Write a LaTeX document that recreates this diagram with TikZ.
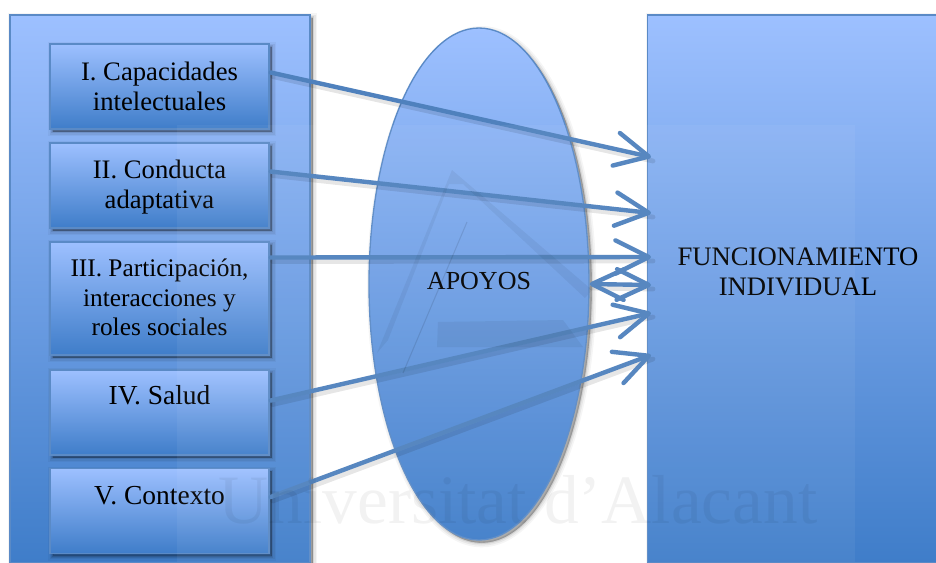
\documentclass[tikz,border=0pt]{standalone}
\usepackage{fontspec}
\setmainfont{Liberation Serif}
\usetikzlibrary{shapes.geometric,arrows.meta,calc}
\definecolor{gtop}{HTML}{9DC0FF}
\definecolor{gbot}{HTML}{3F7DC9}
\definecolor{edge}{HTML}{5A8AC6}
\definecolor{conn}{HTML}{4F81BD}
\newcommand{\dn}[2]{\raisebox{-#1pt}[\height][\depth]{#2}}
\tikzset{
  softshadow/.style={
    preaction={draw=black,fill=black,draw opacity=.04,fill opacity=.04,line width=7pt,transform canvas={shift={(#1,-#1)}}},
    preaction={draw=black,fill=black,draw opacity=.06,fill opacity=.06,line width=4.5pt,transform canvas={shift={(#1,-#1)}}},
    preaction={draw=black,fill=black,draw opacity=.09,fill opacity=.09,line width=2pt,transform canvas={shift={(#1,-#1)}}},
    preaction={draw=black,fill=black,draw opacity=.11,fill opacity=.11,line width=.5pt,transform canvas={shift={(#1,-#1)}}}
  },
  gradshape/.style={top color=gtop,bottom color=gbot,draw=edge,line width=1pt},
  panel/.style={rectangle,gradshape,softshadow=2pt,minimum width=225pt,inner sep=0pt},
  boxnode/.style={rectangle,gradshape,softshadow=2pt,minimum width=164.25pt,minimum height=#1,inner sep=0pt,align=center,font=\fontsize{20}{22.5}\selectfont},
  oval/.style={ellipse,gradshape,softshadow=2pt,minimum width=165pt,minimum height=384pt,inner sep=0pt,font=\fontsize{19.5}{22}\selectfont},
  plainlabel/.style={align=center,inner sep=0pt,font=\fontsize{20}{23}\selectfont},
  link/.style={draw=conn,line width=3.3pt,line cap=round,line join=round},
  linkshadow/.style={draw=black,line width=3.6pt,draw opacity=.10,line cap=round},
  tip/.style={-{Straight Barb[length=25pt,width=25pt,line width=3.3pt,round]}},
  twotip/.style={{Straight Barb[length=24pt,width=23pt,line width=3.3pt,round]}-{Straight Barb[length=24pt,width=23pt,line width=3.3pt,round]}},
  mark face/.style={fill=black,fill opacity=.05,draw=none},
}
\begin{document}
\begin{tikzpicture}[x=.75pt,y=-.75pt]
\useasboundingbox (0,0) rectangle (936,562);
\clip (0,0) rectangle (936,562);
\fill[white] (0,0) rectangle (936,562);
% panels
\node[panel,minimum height=411pt] (left) at (160,289) {};
\node[panel,minimum width=218pt,minimum height=411pt] (right) at (793,289) {};
% boxes
\node[boxnode=63.75pt] (b1) at (159.5,86.5) {I. Capacidades\\intelectuales};
\node[boxnode=63.75pt] (b2) at (159.5,185.5) {\dn{1.5}{II. Conducta}\\\dn{1.5}{adaptativa}};
\node[boxnode=84.75pt,font=\fontsize{19}{22.2}\selectfont] (b3) at (159.5,298.5) {\dn{-1.1}{III. Participación,}\\\dn{-.8}{interacciones y}\\\dn{-1.1}{roles sociales}};
\node[boxnode=63.75pt,font=\fontsize{20.6}{22.5}\selectfont] (b4) at (159.5,412.5) {\dn{1.2}{IV. Salud}\\[0pt]\strut};
\node[boxnode=63.75pt,font=\fontsize{20.6}{22.5}\selectfont] (b5) at (159.5,511) {\dn{2.6}{V. Contexto}\\[0pt]\strut};
% ellipse
\node[oval] (apoyos) at (479,284) {\dn{-2}{APOYOS}};
\node[plainlabel] (func) at (798,272) {FUNCIONAMIENTO\\INDIVIDUAL};
% connector ends
\coordinate (s1) at ($(b1.east)+(1,-14)$);
\coordinate (s2) at ($(b2.east)+(1,-14)$);
\coordinate (s3) at ($(b3.east)+(1,-41)$);
\coordinate (s4) at ($(b4.east)+(1,-12)$);
\coordinate (s5) at ($(b5.east)+(1,-14)$);
\coordinate (e1) at (651,157);
\coordinate (e2) at (651,213);
\coordinate (e3) at (651,257);
\coordinate (e4) at (651,313);
\coordinate (e5) at (651,355);
\coordinate (d1) at (apoyos.east);
\coordinate (d2) at (651,285);
% connector shadows
\foreach \a/\b in {s1/e1,s2/e2,s3/e3,s4/e4,s5/e5,d1/d2}
  \draw[linkshadow,transform canvas={shift={(1.5pt,-3pt)}}] (\a) -- (\b);
% connectors
\draw[link,tip] (s1) -- (e1);
\draw[link,tip] (s2) -- (e2);
\draw[link,tip] (s3) -- (e3);
\draw[link,tip] (s4) -- (e4);
\draw[link,tip] (s5) -- (e5);
\draw[link,twotip] (d1) -- (d2);
% watermark
\fill[white,fill opacity=.05] (177,125) rectangle (855,562);
\fill[mark face] (452,170) -- (592,290) -- (585,298) -- (463,184) -- (449,184) -- (388,340) -- (377,353) -- cycle;
\fill[mark face] (438,322) -- (563,320) -- (583,347) -- (437,347) -- cycle;
\draw[black,draw opacity=.1,line width=.8pt] (467,222) -- (403,373);
\node[inner sep=0pt,text=black,text opacity=.05,font=\fontsize{52}{52}\selectfont] (wm) at (518,500) {Universitat d’Alacant};
\end{tikzpicture}
\end{document}
